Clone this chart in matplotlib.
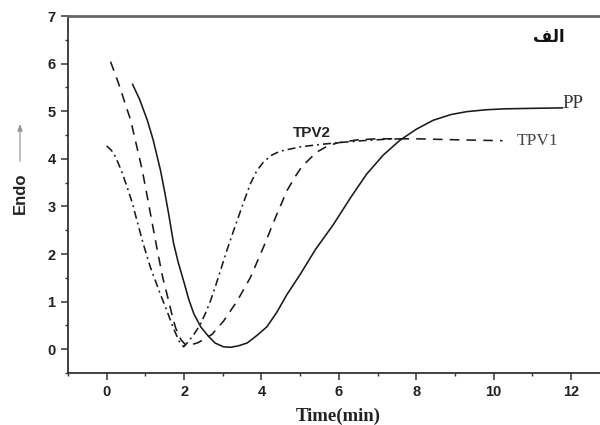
import numpy as np
import matplotlib
matplotlib.use('Agg')
import matplotlib.pyplot as plt
from matplotlib.ticker import MultipleLocator

# values
pp_x = [0.66, 0.85, 1.05, 1.2, 1.39, 1.5, 1.6, 1.73, 1.85, 2.0, 2.12, 2.25, 2.43, 2.6,
        2.8, 3.02, 3.2, 3.4, 3.63, 3.9, 4.14, 4.4, 4.66, 5.0, 5.4, 5.86, 6.3, 6.72,
        7.15, 7.58, 8.0, 8.44, 8.9, 9.3, 9.8, 10.3, 11.0, 11.8]
pp_y = [5.58, 5.25, 4.81, 4.4, 3.76, 3.3, 2.85, 2.22, 1.82, 1.4, 1.05, 0.75, 0.47, 0.3,
        0.13, 0.05, 0.04, 0.07, 0.13, 0.3, 0.47, 0.78, 1.15, 1.57, 2.1, 2.62, 3.18, 3.68,
        4.08, 4.39, 4.62, 4.81, 4.93, 4.99, 5.03, 5.05, 5.06, 5.07]

tpv1_x = [0.1, 0.3, 0.62, 0.92, 1.05, 1.13, 1.31, 1.45, 1.56, 1.68, 1.78, 1.92, 2.04,
          2.2, 2.34, 2.5, 2.72, 3.02, 3.37, 3.71, 4.05, 4.4, 4.66, 4.85, 5.04, 5.25,
          5.43, 5.73, 6.0, 6.5, 7.0, 8.0, 9.0, 10.23]
tpv1_y = [6.04, 5.6, 4.81, 3.76, 3.2, 2.85, 2.07, 1.5, 1.15, 0.75, 0.45, 0.2, 0.09,
          0.1, 0.13, 0.2, 0.31, 0.59, 1.01, 1.5, 2.14, 2.84, 3.33, 3.6, 3.83, 4.0,
          4.14, 4.28, 4.34, 4.4, 4.42, 4.42, 4.4, 4.38]

tpv2_x = [0.0, 0.12, 0.23, 0.38, 0.53, 0.66, 0.75, 0.95, 1.13, 1.39, 1.56, 1.72, 1.87,
          1.99, 2.12, 2.27, 2.42, 2.55, 2.68, 2.81, 2.94, 3.1, 3.28, 3.5, 3.71, 3.88,
          4.05, 4.25, 4.48, 5.0, 5.5, 6.0, 6.6, 7.2, 7.6]
tpv2_y = [4.27, 4.18, 4.04, 3.75, 3.4, 3.08, 2.8, 2.2, 1.72, 1.15, 0.8, 0.45, 0.17,
          0.05, 0.17, 0.33, 0.52, 0.75, 1.01, 1.32, 1.65, 2.06, 2.49, 3.0, 3.47, 3.75,
          3.93, 4.07, 4.16, 4.25, 4.3, 4.34, 4.38, 4.41, 4.42]

fig = plt.figure(figsize=(6, 4.25), dpi=100)
ax = fig.add_axes([68/600, 1-373/425, 1-68/600, (373-16)/425])

lc = '#1a1a1a'
ax.plot(pp_x, pp_y, c=lc, lw=1.15, solid_capstyle='butt')
ax.plot(tpv1_x, tpv1_y, c=lc, lw=1.15, dashes=(6, 4.5))
ax.plot(tpv2_x, tpv2_y, c=lc, lw=1.15, dashes=(5, 2.5, 1.2, 2.5))

ax.set_xlim(-1, 12.75)
ax.set_ylim(-0.5, 7)
ax.xaxis.set_major_locator(MultipleLocator(2))
ax.xaxis.set_minor_locator(MultipleLocator(1))
ax.yaxis.set_major_locator(MultipleLocator(1))
ax.yaxis.set_minor_locator(MultipleLocator(0.5))
ax.tick_params(which='major', direction='out', length=5, width=1.1, color='#333333',
               pad=4, labelsize=10.5)
ax.tick_params(which='minor', direction='out', length=2.5, width=1.0, color='#333333')
for lab in ax.get_xticklabels() + ax.get_yticklabels():
    lab.set_fontfamily('Liberation Sans')
    lab.set_fontweight('bold')
    lab.set_color('#222222')

ax.spines['right'].set_visible(False)
ax.spines['left'].set_linewidth(1.3)
ax.spines['bottom'].set_linewidth(1.3)
ax.spines['left'].set_color('#333333')
ax.spines['bottom'].set_color('#333333')
ax.spines['top'].set_linewidth(2.0)
ax.spines['top'].set_color('#666666')

ax.text(11.78, 5.17, 'PP', fontsize=13.5, family='Liberation Serif', color='#333333',
        ha='left', va='center')
ax.text(10.6, 4.37, 'TPV1', fontsize=12.5, family='Liberation Serif', color='#444444',
        ha='left', va='center')
ax.text(5.3, 4.54, 'TPV2', fontsize=11, family='Liberation Sans', fontweight='bold',
        color='#222222', ha='center', va='center')
# "الف" in presentation forms, laid out left to right
ax.text(11.43, 6.55, '\ufed2\ufedf\ufe8d', fontsize=12, family=['DejaVu Sans'],
        fontweight='bold', color='#111111', ha='center', va='center')

fig.text(338/600, 1-416/425, 'Time(min)', fontsize=13.5, family='Liberation Serif',
         fontweight='bold', color='#222222', ha='center', va='center')
fig.text(20/600, 1-193/425, 'Endo', fontsize=12, family='Liberation Sans',
         fontweight='bold', rotation=90, color='#222222', ha='center', va='center')
fig.add_artist(matplotlib.patches.FancyArrowPatch(
    (20/600, 1-164/425), (20/600, 1-121/425), transform=fig.transFigure,
    arrowstyle='-|>,head_length=4,head_width=1.5', color='#999999', lw=0.9,
    mutation_scale=1))

fig.savefig('out.png', dpi=100)
